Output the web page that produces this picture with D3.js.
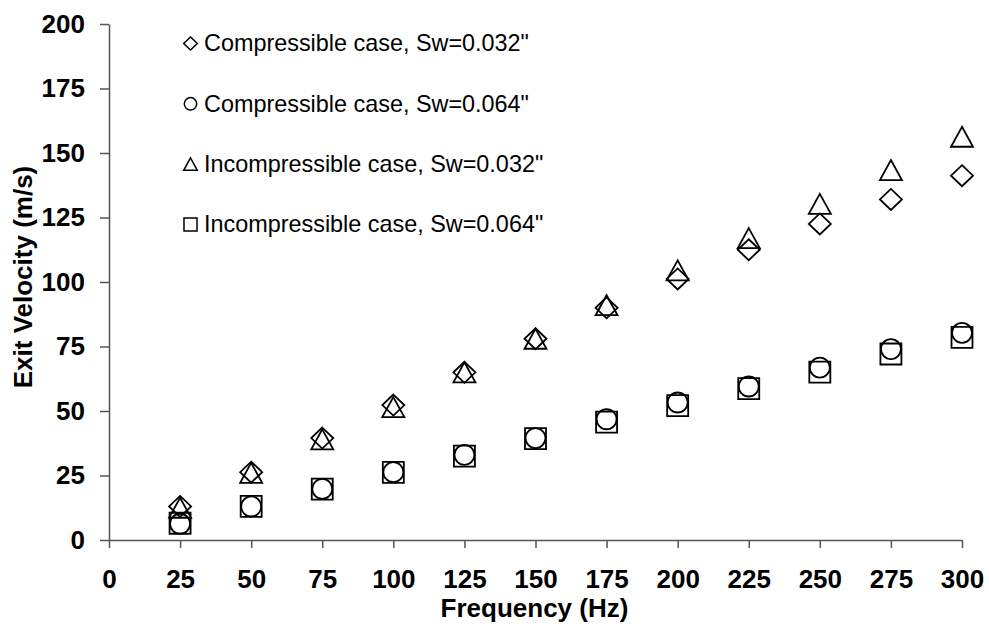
<!DOCTYPE html>
<html>
<head>
<meta charset="utf-8">
<script src="https://cdn.jsdelivr.net/npm/d3@7"></script>
<style>
  html, body { margin: 0; padding: 0; background: #fff; }
  svg { display: block; }
  text { font-family: "Liberation Sans", Arial, sans-serif; fill: #000; }
</style>
</head>
<body>
<svg id="chart" width="989" height="629"></svg>
<script>
const frequency = [25, 50, 75, 100, 125, 150, 175, 200, 225, 250, 275, 300];
const compressible032 = [13, 26.3, 39.5, 52.3, 65, 78, 90, 101.2, 112.5, 122.5, 132, 141.2];
const compressible064 = [6.3, 13, 19.8, 26.3, 33, 39.5, 46.8, 53.3, 59.5, 66.8, 74, 80.3];
const incompressible032 = [12.5, 26, 39, 51.5, 65, 78, 91, 104.5, 117, 130.3, 143.4, 156.3];
const incompressible064 = [6.5, 13, 19.7, 26.2, 32.5, 39.3, 45.7, 52.1, 58.7, 65.1, 72.1, 78.5];
const xTicks = [0, 25, 50, 75, 100, 125, 150, 175, 200, 225, 250, 275, 300];
const yTicks = [0, 25, 50, 75, 100, 125, 150, 175, 200];
const seriesNames = [
  'Compressible case, Sw=0.032"',
  'Compressible case, Sw=0.064"',
  'Incompressible case, Sw=0.032"',
  'Incompressible case, Sw=0.064"'
];

const svg = d3.select("#chart");
const margin = {left: 109, right: 27, top: 24, bottom: 89};
const W = 989, H = 629;

const x = d3.scaleLinear().domain([0, 300]).range([margin.left, W - margin.right]);
const y = d3.scaleLinear().domain([0, 200]).range([H - margin.bottom, margin.top]);

// marker shapes (bbox-centered), s = scale factor
function diamond(s) { const w = 11 * s, h = 10.5 * s; return `M0,${-h}L${w},0L0,${h}L${-w},0Z`; }
function triangle(s) { const w = 11 * s, h = 10 * s; return `M0,${-h}L${w},${h}L${-w},${h}Z`; }
function square(s) { const a = 10.5 * s; return `M${-a},${-a}H${a}V${a}H${-a}Z`; }
function circle(s) { const r = 10 * s; return `M${r},0A${r},${r} 0 1 1 ${-r},0A${r},${r} 0 1 1 ${r},0Z`; }

const series = [
  {name: seriesNames[0], values: compressible032, shape: diamond},
  {name: seriesNames[1], values: compressible064, shape: circle},
  {name: seriesNames[2], values: incompressible032, shape: triangle},
  {name: seriesNames[3], values: incompressible064, shape: square}
];

// axes
const xAxis = d3.axisBottom(x).tickValues(xTicks).tickSizeInner(8).tickSizeOuter(0).tickPadding(22);
const yAxis = d3.axisLeft(y).tickValues(yTicks).tickSizeInner(9).tickSizeOuter(0).tickPadding(15);

const gx = svg.append("g").attr("transform", `translate(0,${y(0)})`).call(xAxis);
const gy = svg.append("g").attr("transform", `translate(${x(0)},0)`).call(yAxis);

[gx, gy].forEach(g => {
  g.selectAll("path, line").attr("stroke", "#555").attr("stroke-width", 1.5);
  g.selectAll("text").attr("font-size", 26).attr("font-weight", "bold")
    .attr("font-family", '"Liberation Sans", Arial, sans-serif').attr("fill", "#000");
});

// axis titles
svg.append("text")
  .attr("x", (x(0) + x(300)) / 2 - 1).attr("y", 617)
  .attr("text-anchor", "middle").attr("font-size", 26).attr("font-weight", "bold")
  .text("Frequency (Hz)");

svg.append("text")
  .attr("transform", `translate(32,${(y(0) + y(200)) / 2 - 5}) rotate(-90)`)
  .attr("text-anchor", "middle").attr("font-size", 26).attr("font-weight", "bold")
  .text("Exit Velocity (m/s)");

// points
series.forEach(s => {
  svg.append("g").selectAll("path")
    .data(frequency.map((f, i) => [f, s.values[i]]))
    .join("path")
    .attr("transform", d => `translate(${x(d[0])},${y(d[1])})`)
    .attr("d", s.shape(1))
    .attr("fill", "none").attr("stroke", "#000").attr("stroke-width", 1.8);
});

// legend
const legend = svg.append("g");
series.forEach((s, i) => {
  const cy = 43.5 + i * 60.3;
  legend.append("path")
    .attr("transform", `translate(190.5,${cy})`)
    .attr("d", s.shape(0.62))
    .attr("fill", "none").attr("stroke", "#000").attr("stroke-width", 1.5);
  legend.append("text")
    .attr("x", 204).attr("y", cy + 7.8)
    .attr("font-size", 23.4)
    .text(s.name);
});
</script>
</body>
</html>
